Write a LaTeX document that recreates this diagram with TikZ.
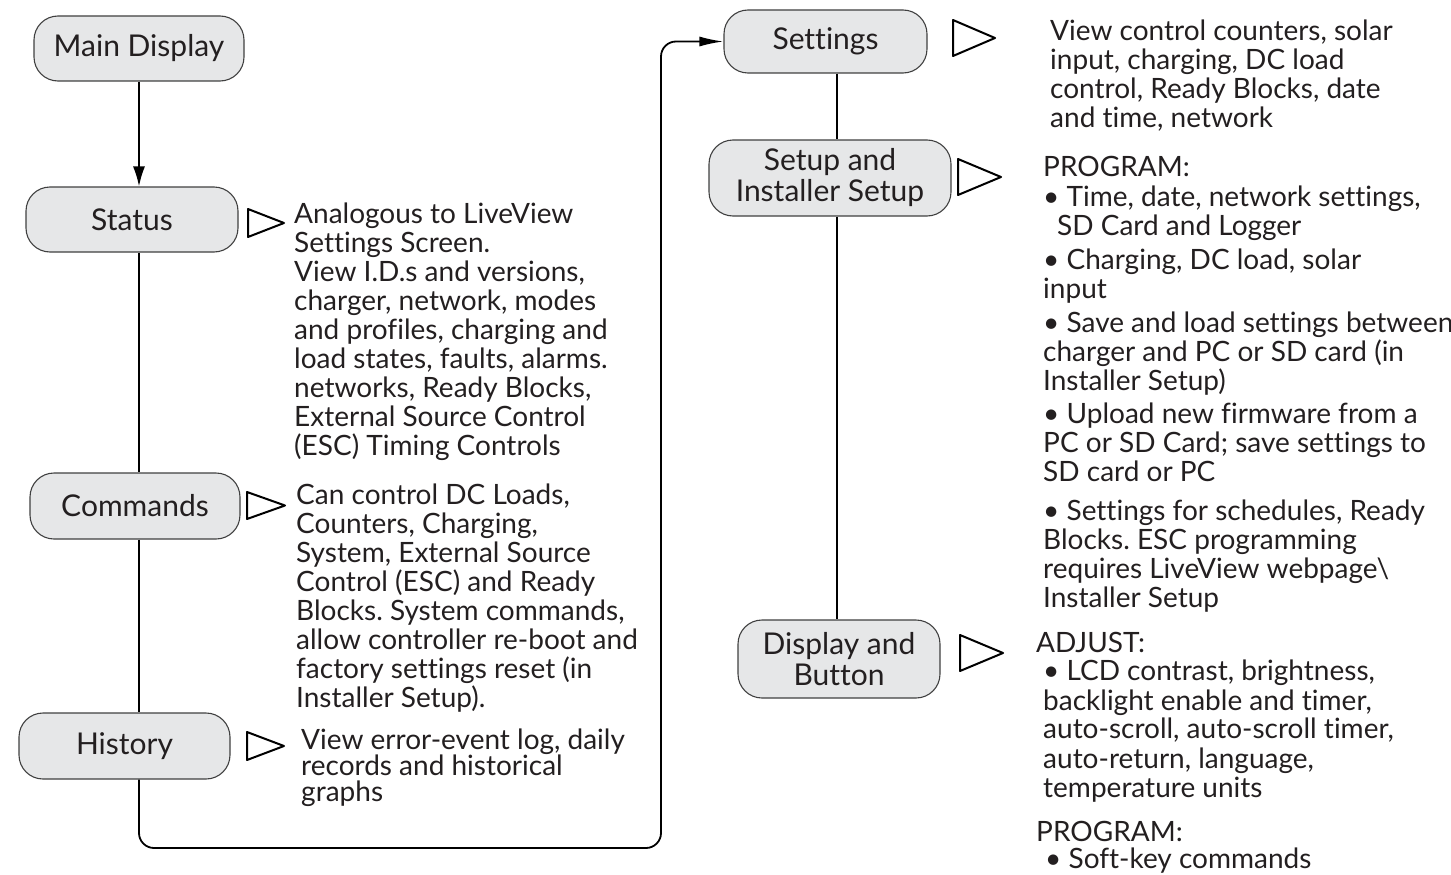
\documentclass[tikz,border=0pt]{standalone}
\usepackage{fontspec}
\setmainfont{Lato}[Ligatures=NoCommon]
\usetikzlibrary{arrows.meta}

\definecolor{boxfill}{RGB}{230,231,232}
\definecolor{boxline}{RGB}{64,64,64}
\definecolor{inkgray}{RGB}{35,31,32}

\tikzset{
  menubox/.style={draw=boxline, line width=1.1pt, fill=boxfill, rounded corners=24pt,
    inner sep=0pt, align=center, text=inkgray, font=\fontsize{30}{31}\selectfont},
  infotext/.style={anchor=north west, inner sep=0pt, align=left, text=inkgray,
    font=\fontsize{28}{29}\selectfont\frenchspacing},
  pointer/.style={draw=black, line width=2pt, line join=round},
  link/.style={line width=1.8pt},
  tip/.style={-{Latex[length=20pt,width=12pt]}},
  longtip/.style={-{Latex[length=24pt,width=10pt]}}
}

\begin{document}
\begin{tikzpicture}[x=1pt, y=-1pt]
  \useasboundingbox (0,0) rectangle (1451,875);

  % menu boxes, left column
  \node[menubox, minimum width=210pt, minimum height=65pt] (main) at (139,48.5) {Main Display};
  \node[menubox, minimum width=212pt, minimum height=65pt] (status) at (132,219.5) {Status};
  \node[menubox, minimum width=210pt, minimum height=66pt] (commands) at (135,506) {Commands};
  \node[menubox, minimum width=211pt, minimum height=66pt] (history) at (124.5,746) {History};

  % menu boxes, right column
  \node[menubox, minimum width=203pt, minimum height=63pt] (settings) at (825.5,41.5) {Settings};
  \node[menubox, minimum width=242pt, minimum height=76pt] (setup) at (830,178) {Setup and\\Installer Setup};
  \node[menubox, minimum width=202pt, minimum height=78pt] (display) at (839,659) {Display and\\Button};

  \coordinate (rspine) at (837,0);
  \coordinate (loop) at (661,848);

  % connectors
  \draw[link, tip] (main.south) -- (main.south |- status.north);
  \draw[link] (status.south -| main.south) -- (commands.north -| main.south);
  \draw[link] (commands.south -| main.south) -- (history.north -| main.south);
  \draw[link, longtip, rounded corners=15pt] (history.south -| main.south) |- (loop) |- (settings.west);
  \draw[link] (settings.south -| rspine) -- (setup.north -| rspine);
  \draw[link] (setup.south -| rspine) -- (display.north -| rspine);

  % pointers
  \foreach \x/\y/\w/\h in {248/223/36/14, 247/505.5/38/13.5, 247/746/37/14,
                           953/38/42/18, 958/177/43/18, 960/653/43/18}
    \draw[pointer] (\x,\y-\h) -- (\x+\w,\y) -- (\x,\y+\h) -- cycle;

  % descriptions
  \node[infotext] (statustext) at (294,203) {Analogous to LiveView\\Settings Screen.\\View I.D.s and versions,\\charger, network, modes\\and profiles, charging and\\load states, faults, alarms.\\networks, Ready Blocks,\\External Source Control\\(ESC) Timing Controls};
  \node[infotext] (commandstext) at (296,484) {Can control DC Loads,\\Counters, Charging,\\System, External Source\\Control (ESC) and Ready\\Blocks. System commands,\\allow controller re-boot and\\factory settings reset (in\\Installer Setup).};
  \node[infotext] (historytext) at (301,729) {View error-event log, daily\\[-3pt]records and historical\\[-3pt]graphs};
  \node[infotext] (settingstext) at (1050,20) {View control counters, solar\\input, charging, DC load\\control, Ready Blocks, date\\and time, network};
  \node[infotext] (setuptext) at (1043,156) {PROGRAM:\\[1pt]%
    • Time, date, network settings,\\\hspace{14pt}SD Card and Logger\\[5pt]%
    • Charging, DC load, solar\\input\\[5pt]%
    • Save and load settings between\\charger and PC or SD card (in\\Installer Setup)\\[4pt]%
    • Upload new firmware from a\\PC or SD Card; save settings to\\SD card or PC\\[10pt]%
    • Settings for schedules, Ready\\Blocks. ESC programming\\requires LiveView webpage\textbackslash\\Installer Setup};
  \node[infotext] (displaytext) at (1036,632) {ADJUST:\\[-1pt]%
    \hspace{7pt}• LCD contrast, brightness,\\[1pt]\hspace{7pt}backlight enable and timer,\\[-1pt]%
    \hspace{7pt}auto-scroll, auto-scroll timer,\\[1pt]\hspace{7pt}auto-return, language,\\\hspace{7pt}temperature units\\[15pt]%
    PROGRAM:\\[-2pt]\hspace{9pt}• Soft-key commands};
\end{tikzpicture}
\end{document}
